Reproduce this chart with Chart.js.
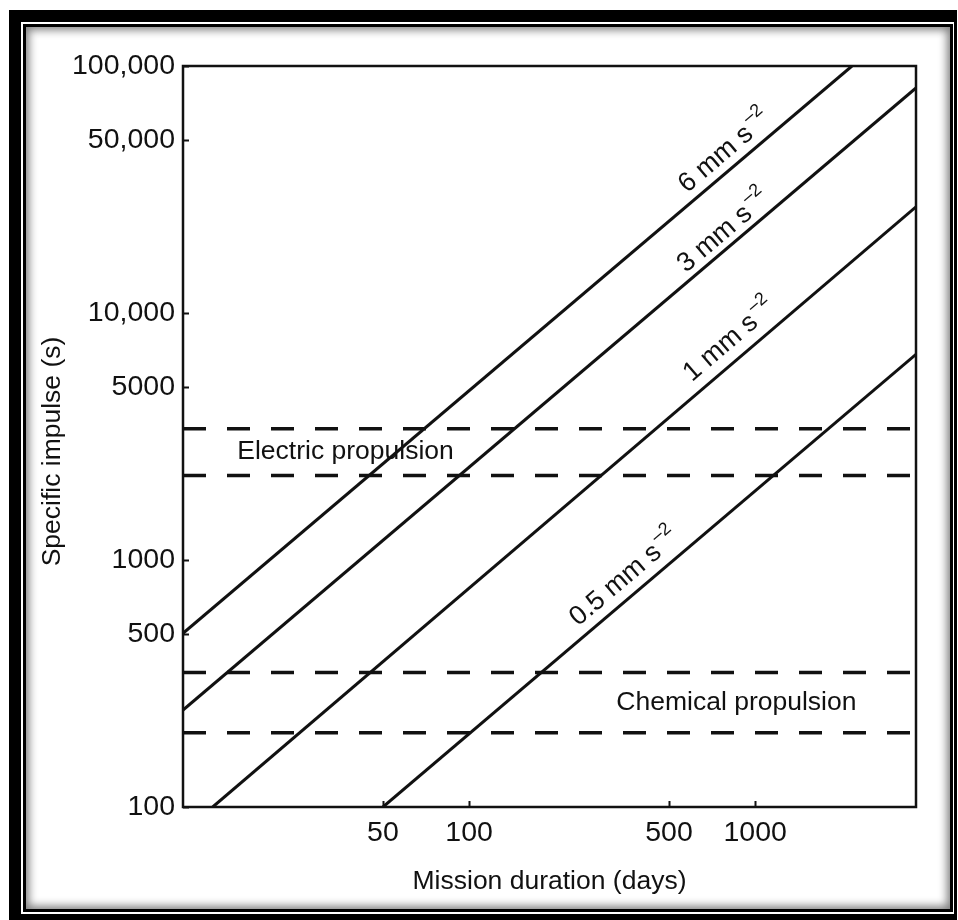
<!DOCTYPE html>
<html>
<head>
<meta charset="utf-8">
<script src="https://cdn.jsdelivr.net/npm/chart.js@4.4.1/dist/chart.umd.min.js"></script>
<style>
  html, body { margin: 0; padding: 0; background: #fff; }
  body { width: 958px; height: 920px; position: relative; overflow: hidden; }
  #frameOuter {
    position: absolute; left: 9px; top: 10px; width: 948px; height: 910px;
    box-sizing: border-box; border-style: solid; border-color: #000;
    border-width: 12px 3px 6px 12px;
  }
  #frameInner {
    position: absolute; left: 23px; top: 24px; width: 930px; height: 888px;
    box-sizing: border-box; border: 3px solid #000;
    box-shadow: inset 0 0 9px 3px rgba(0,0,0,0.5);
  }
  #chart { position: absolute; left: 0; top: 0; }
</style>
</head>
<body>
<div id="frameOuter"></div>
<div id="frameInner"></div>
<canvas id="chart" width="958" height="920"></canvas>
<script>
// Garis percepatan (mm s^-2): titik awal & akhir yang dibaca dari gambar
const accelNames     = ['6', '3', '1', '0.5'];
const lineStartDays  = [10, 10, 12.7, 50];
const lineStartIsp   = [505, 247, 100, 100];
const lineEndDays    = [2180, 3650, 3650, 3650];
const lineEndIsp     = [100000, 81500, 26900, 6800];

// Pita propulsi (garis putus-putus)
const bandNames = ['Electric propulsion', 'Chemical propulsion'];
const bandLow   = [2200, 200];
const bandHigh  = [3400, 350];

// Sumbu
const dayMin = 10, dayMax = 3650;
const ispMin = 100, ispMax = 100000;
const xTickValues = [50, 100, 500, 1000];
const xTickLabels = ['50', '100', '500', '1000'];
const yTickValues = [100, 500, 1000, 5000, 10000, 50000, 100000];
const yTickLabels = ['100', '500', '1000', '5000', '10,000', '50,000', '100,000'];

const FONT = '"Liberation Sans", Arial, Helvetica, sans-serif';
const INK  = '#111';

// posisi label (dalam koordinat data) -- dipisah dari data
const accelLabelDay = [607, 596, 640, 255];
const accelLabelGap = [9.5, 7.5, 12, 11];
const bandLabelDay  = [37, 860];

const datasets = [];
accelNames.forEach((n, i) => {
  datasets.push({
    label: n + ' mm s-2',
    data: [{ x: lineStartDays[i], y: lineStartIsp[i] }, { x: lineEndDays[i], y: lineEndIsp[i] }],
    showLine: true, borderColor: INK, borderWidth: 3, pointRadius: 0, fill: false
  });
});
bandNames.forEach((n, i) => {
  [bandLow[i], bandHigh[i]].forEach(v => {
    datasets.push({
      label: n,
      data: [{ x: dayMin, y: v }, { x: dayMax, y: v }],
      showLine: true, borderColor: INK, borderWidth: 3.5, borderDash: [23, 21],
      pointRadius: 0, fill: false
    });
  });
});

// Bingkai plot + tick ke dalam + judul sumbu Y
const framePlugin = {
  id: 'plotFrame',
  afterDraw(chart) {
    const { ctx, chartArea: a, scales: { x, y } } = chart;
    ctx.save();
    ctx.strokeStyle = INK;
    ctx.lineWidth = 2.5;
    ctx.strokeRect(a.left, a.top, a.right - a.left, a.bottom - a.top);
    ctx.lineWidth = 2;
    ctx.beginPath();
    yTickValues.forEach(v => {
      const py = Math.round(y.getPixelForValue(v)) + 0.5;
      ctx.moveTo(a.left, py); ctx.lineTo(a.left + 6, py);
    });
    xTickValues.forEach(v => {
      const px = Math.round(x.getPixelForValue(v)) + 0.5;
      ctx.moveTo(px, a.bottom); ctx.lineTo(px, a.bottom - 6);
    });
    ctx.stroke();

    // judul sumbu Y sedikit di bawah tengah, seperti aslinya
    ctx.fillStyle = INK;
    ctx.font = '26.5px ' + FONT;
    ctx.textAlign = 'center';
    ctx.textBaseline = 'middle';
    ctx.translate(53, (a.top + a.bottom) / 2 + 15);
    ctx.rotate(-Math.PI / 2);
    ctx.fillText('Specific impulse (s)', 0, 0);
    ctx.restore();
  }
};

// Label pada garis miring dan pita
const labelPlugin = {
  id: 'lineLabels',
  afterDatasetsDraw(chart) {
    const { ctx, scales: { x, y } } = chart;
    ctx.save();
    ctx.fillStyle = INK;
    accelNames.forEach((n, i) => {
      const x0 = x.getPixelForValue(lineStartDays[i]), y0 = y.getPixelForValue(lineStartIsp[i]);
      const x1 = x.getPixelForValue(lineEndDays[i]),   y1 = y.getPixelForValue(lineEndIsp[i]);
      const ang = Math.atan2(y1 - y0, x1 - x0);
      const ax = x.getPixelForValue(accelLabelDay[i]);
      const ay = y0 + (ax - x0) * (y1 - y0) / (x1 - x0);
      const gap = accelLabelGap[i];
      ctx.save();
      ctx.translate(ax, ay);
      ctx.rotate(ang);
      ctx.textAlign = 'left';
      ctx.textBaseline = 'alphabetic';
      ctx.font = '27px ' + FONT;
      const main = n + ' mm s';
      ctx.fillText(main, 0, -gap);
      const w = ctx.measureText(main).width;
      ctx.font = '18px ' + FONT;
      ctx.fillText('\u2013' + '2', w + 3, -gap - 13);
      ctx.restore();
    });
    ctx.font = '26.5px ' + FONT;
    ctx.textAlign = 'center';
    ctx.textBaseline = 'middle';
    bandNames.forEach((n, i) => {
      const px = x.getPixelForValue(bandLabelDay[i]);
      const py = y.getPixelForValue(Math.sqrt(bandLow[i] * bandHigh[i]));
      ctx.fillText(n, px, py);
    });
    ctx.restore();
  }
};

new Chart(document.getElementById('chart'), {
  type: 'scatter',
  data: { datasets },
  options: {
    responsive: false,
    animation: false,
    layout: { padding: { top: 66, right: 42, left: 0, bottom: 0 } },
    plugins: { legend: { display: false }, tooltip: { enabled: false } },
    scales: {
      x: {
        type: 'logarithmic', min: dayMin, max: dayMax,
        grid: { display: false, drawTicks: false }, border: { display: false },
        afterBuildTicks: s => { s.ticks = xTickValues.map(v => ({ value: v })); },
        afterFit: s => { s.height = 113; },
        ticks: {
          autoSkip: false, maxRotation: 0, padding: 9, color: INK,
          font: { family: FONT, size: 28.5 },
          callback: v => xTickLabels[xTickValues.indexOf(v)]
        },
        title: {
          display: true, text: 'Mission duration (days)', color: INK,
          font: { family: FONT, size: 26.5 }, padding: { top: 0, bottom: 22 }
        }
      },
      y: {
        type: 'logarithmic', min: ispMin, max: ispMax,
        grid: { display: false, drawTicks: false }, border: { display: false },
        afterBuildTicks: s => { s.ticks = yTickValues.map(v => ({ value: v })); },
        afterFit: s => { s.width = 183; },
        ticks: {
          autoSkip: false, padding: 8, color: INK,
          font: { family: FONT, size: 28.5 },
          callback: v => yTickLabels[yTickValues.indexOf(v)]
        },
        title: { display: false }
      }
    }
  },
  plugins: [framePlugin, labelPlugin]
});
</script>
</body>
</html>
